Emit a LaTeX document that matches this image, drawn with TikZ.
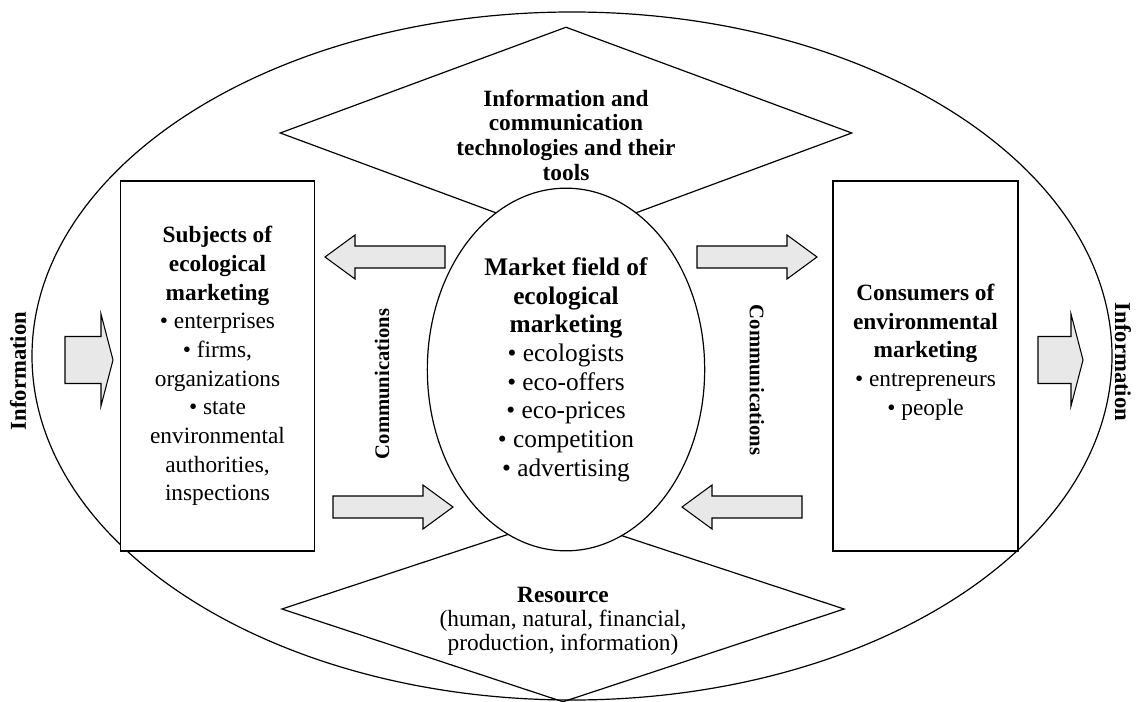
\documentclass[tikz,border=0pt]{standalone}
\usepackage{fontspec}
\setmainfont{Liberation Serif}
\usetikzlibrary{shapes.geometric}

\begin{document}
\begin{tikzpicture}[x=0.75pt, y=-0.75pt, line width=0.9pt,
    box/.style={
        draw,
        fill=white,
        inner sep=0pt,
        minimum width=146pt,
        minimum height=277.5pt,
        align=center,
        font=\fontsize{17.5}{21.5}\selectfont
    },
    dia/.style={
        draw,
        diamond,
        inner sep=0pt
    },
    fatarrow/.style={
        draw,
        fill=gray!18,
        line width=0.8pt,
        line join=miter
    },
    sidelabel/.style={font=\bfseries\fontsize{17}{19}\selectfont},
    commlabel/.style={font=\bfseries\fontsize{15.5}{17}\selectfont}
]
\useasboundingbox (0,0) rectangle (1137,702);

%%%%%%%%%%%%%%%%%%%%%%%%
% Outer field
%%%%%%%%%%%%%%%%%%%%%%%%
\node[draw, ellipse, inner sep=0pt, minimum width=810pt, minimum height=516pt] (field) at (572,356) {};

% --- Diamonds ---
\node[dia, minimum width=429pt, minimum height=159pt] (ict) at (566,133) {};
\node[dia, minimum width=422pt, minimum height=139.5pt] (resource) at (563,609) {};

\node[align=center, font=\bfseries\fontsize{17.5}{18.5}\selectfont] (ictText) at (566,135)
    {Information and\\communication\\technologies and their\\tools};
\node[align=center, font=\fontsize{17.5}{18}\selectfont] (resText) at (563,621)
    {\textbf{Resource}\\(human, natural, financial,\\production, information)};

%%%%%%%%%%%%%%%%%%%%%%%%
% Boxes
%%%%%%%%%%%%%%%%%%%%%%%%
\node[box] (subjects) at (217.5,366)
    {\textbf{Subjects of}\\\textbf{ecological}\\\textbf{marketing}\\
     \textbullet{} enterprises\\\textbullet{} firms,\\organizations\\
     \textbullet{} state\\environmental\\authorities,\\inspections};

\node[box, minimum width=138.75pt] (consumers) at (925.5,366) {};
\node[align=center, font=\fontsize{17.5}{21.5}\selectfont] (consText) at (925.5,352)
    {\textbf{Consumers of}\\\textbf{environmental}\\\textbf{marketing}\\
     \textbullet{} entrepreneurs\\\textbullet{} people};

% --- Market field ---
\node[draw, ellipse, fill=white, inner sep=0pt, minimum width=208pt, minimum height=272pt,
      align=center, font=\fontsize{19}{21.5}\selectfont] (market) at (566,369.5)
    {\textbf{Market field of}\\\textbf{ecological}\\\textbf{marketing}\\
     \textbullet{} ecologists\\\textbullet{} eco-offers\\\textbullet{} eco-prices\\
     \textbullet{} competition\\\textbullet{} advertising};

%%%%%%%%%%%%%%%%%%%%%%%%
% Block arrows
%%%%%%%%%%%%%%%%%%%%%%%%
\draw[fatarrow] (325,257) -- ++(30,-22) -- ++(0,11) -- ++(90,0) -- ++(0,22) -- ++(-90,0) -- ++(0,11) -- cycle;
\draw[fatarrow] (453,507) -- ++(-30,-22) -- ++(0,11) -- ++(-90,0) -- ++(0,22) -- ++(90,0) -- ++(0,11) -- cycle;
\draw[fatarrow] (817,257) -- ++(-30,-22) -- ++(0,11) -- ++(-90,0) -- ++(0,22) -- ++(90,0) -- ++(0,11) -- cycle;
\draw[fatarrow] (682,507) -- ++(30,-22) -- ++(0,11) -- ++(90,0) -- ++(0,22) -- ++(-90,0) -- ++(0,11) -- cycle;

% in / out
\draw[fatarrow] (113,360) -- ++(-12,-46) -- ++(0,22.5) -- ++(-36,0) -- ++(0,47) -- ++(36,0) -- ++(0,22.5) -- cycle;
\draw[fatarrow] (1083,360) -- ++(-12,-46) -- ++(0,22.5) -- ++(-33,0) -- ++(0,47) -- ++(33,0) -- ++(0,22.5) -- cycle;

%%%%%%%%%%%%%%%%%%%%%%%%
% Labels
%%%%%%%%%%%%%%%%%%%%%%%%
\node[sidelabel, rotate=90] (infoIn) at (18,371) {Information};
\node[sidelabel, rotate=-90] (infoOut) at (1123,362) {Information};
\node[commlabel, rotate=90] (commLeft) at (382,384) {Communications};
\node[commlabel, rotate=-90] (commRight) at (757,380) {Communications};

\end{tikzpicture}
\end{document}
